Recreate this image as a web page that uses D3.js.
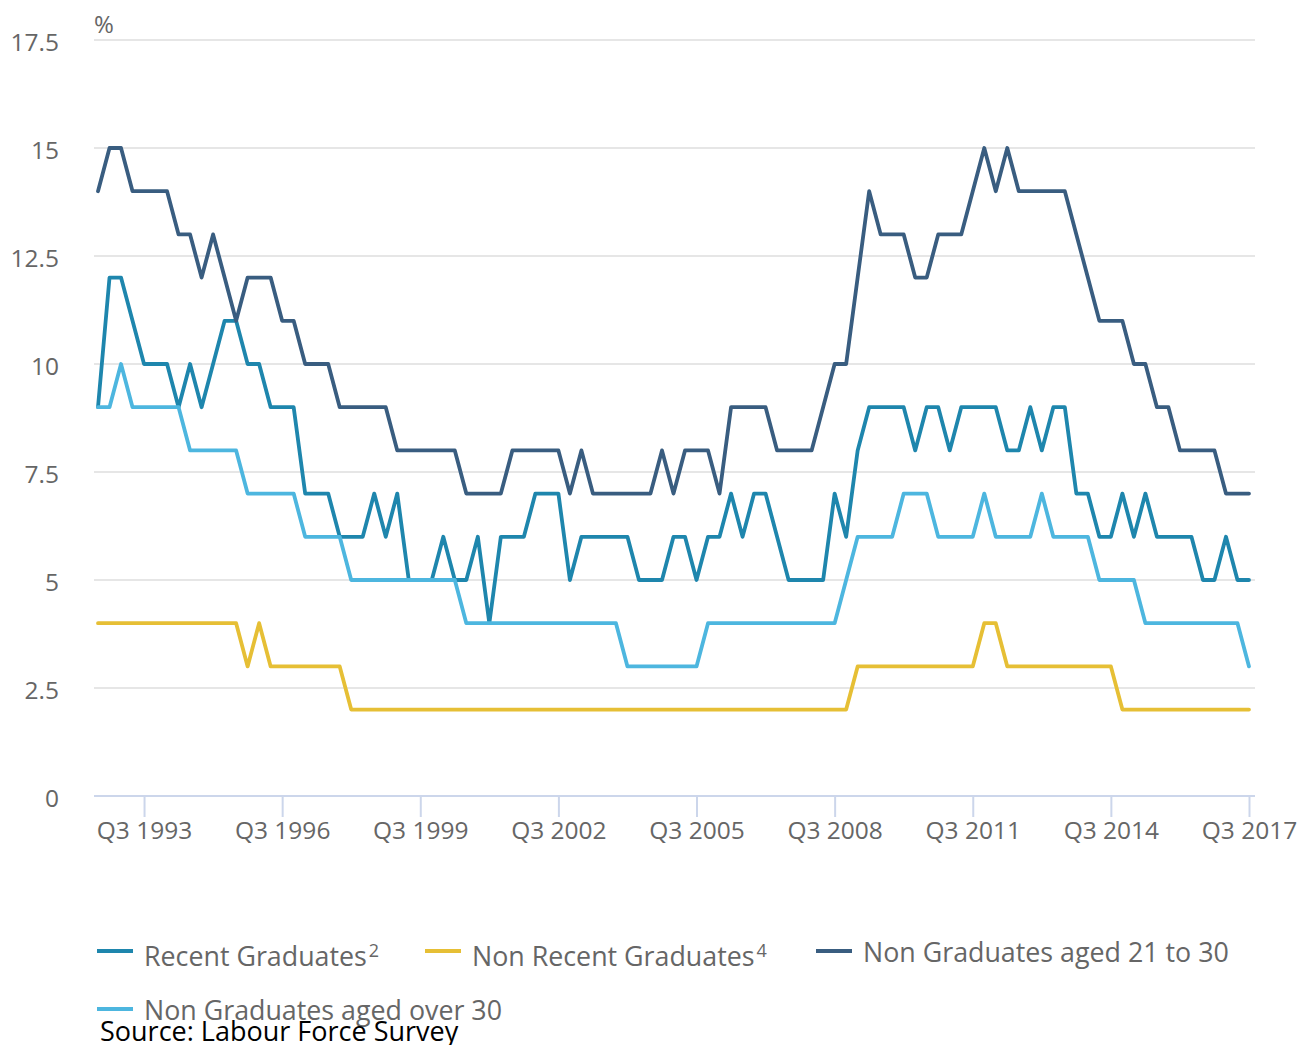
<!DOCTYPE html>
<html>
<head>
<meta charset="utf-8">
<script src="https://cdn.jsdelivr.net/npm/d3@7"></script>
<style>
  body { margin: 0; background: #fff; }
  svg { display: block; font-family: "Open Sans", "Noto Sans", sans-serif; }
</style>
</head>
<body>
<div id="chart"></div>
<script>
// quarterly series, Q3 1992 .. Q3 2017 (percent)
var recentGrads = [9,12,12,11,10,10,10,9,10,9,10,11,11,10,10,9,9,9,7,7,
  7,6,6,6,7,6,7,5,5,5,6,5,5,6,4,6,6,6,7,7,
  7,5,6,6,6,6,6,5,5,5,6,6,5,6,6,7,6,7,7,6,
  5,5,5,5,7,6,8,9,9,9,9,8,9,9,8,9,9,9,9,8,
  8,9,8,9,9,7,7,6,6,7,6,7,6,6,6,6,5,5,6,5,5];
var nonRecentGrads = [4,4,4,4,4,4,4,4,4,4,4,4,4,3,4,3,3,3,3,3,
  3,3,2,2,2,2,2,2,2,2,2,2,2,2,2,2,2,2,2,2,
  2,2,2,2,2,2,2,2,2,2,2,2,2,2,2,2,2,2,2,2,
  2,2,2,2,2,2,3,3,3,3,3,3,3,3,3,3,3,4,4,3,
  3,3,3,3,3,3,3,3,3,2,2,2,2,2,2,2,2,2,2,2,2];
var nonGrads21to30 = [14,15,15,14,14,14,14,13,13,12,13,12,11,12,12,12,11,11,10,10,
  10,9,9,9,9,9,8,8,8,8,8,8,7,7,7,7,8,8,8,8,
  8,7,8,7,7,7,7,7,7,8,7,8,8,8,7,9,9,9,9,8,
  8,8,8,9,10,10,12,14,13,13,13,12,12,13,13,13,14,15,14,15,
  14,14,14,14,14,13,12,11,11,11,10,10,9,9,8,8,8,8,7,7,7];
var nonGradsOver30 = [9,9,10,9,9,9,9,9,8,8,8,8,8,7,7,7,7,7,6,6,
  6,6,5,5,5,5,5,5,5,5,5,5,4,4,4,4,4,4,4,4,
  4,4,4,4,4,4,3,3,3,3,3,3,3,4,4,4,4,4,4,4,
  4,4,4,4,4,5,6,6,6,6,7,7,7,6,6,6,6,7,6,6,
  6,6,7,6,6,6,6,5,5,5,5,4,4,4,4,4,4,4,4,4,3];

var tickLabels = ["Q3 1993","Q3 1996","Q3 1999","Q3 2002","Q3 2005","Q3 2008","Q3 2011","Q3 2014","Q3 2017"];
var yTicks = [0, 2.5, 5, 7.5, 10, 12.5, 15, 17.5];

var seriesNames = ["Recent Graduates", "Non Recent Graduates", "Non Graduates aged 21 to 30", "Non Graduates aged over 30"];
var seriesSup = ["2", "4", "", ""];
var seriesColors = ["#1e86ad", "#e6bf35", "#395d80", "#4db6df"];

// category labels Q3 1992 .. Q3 2017
var quarters = [];
for (var yr = 1992, q = 3; quarters.length < recentGrads.length; ) {
    quarters.push("Q" + q + " " + yr);
    q++;
    if (q > 4) { q = 1; yr++; }
}

var width = 1298, height = 1045;
var svg = d3.select("#chart").append("svg")
    .attr("width", width)
    .attr("height", height);

var x = d3.scalePoint().domain(quarters).range([98, 1249]);
var y = d3.scaleLinear().domain([0, 17.5]).range([796, 40]);

// grid
svg.append("g").selectAll("line")
    .data(yTicks.slice(1))
    .join("line")
    .attr("x1", 94).attr("x2", 1255)
    .attr("y1", d => y(d)).attr("y2", d => y(d))
    .attr("stroke", "#e6e6e6")
    .attr("stroke-width", 2);

// y labels
svg.append("g").selectAll("text")
    .data(yTicks)
    .join("text")
    .attr("x", 59)
    .attr("y", d => y(d) + 11)
    .attr("text-anchor", "end")
    .attr("fill", "#666")
    .style("font-size", "24.5px")
    .text(d => d);

svg.append("text")
    .attr("x", 94).attr("y", 33)
    .attr("fill", "#666")
    .style("font-size", "24px")
    .text("%");

// x axis
var xAxis = svg.append("g")
    .attr("transform", "translate(0," + y(0) + ")")
    .call(d3.axisBottom(x).tickValues(tickLabels).tickSize(21).tickSizeOuter(0).tickPadding(5));
xAxis.select(".domain").remove();
xAxis.selectAll(".tick line").attr("stroke", "#ccd6eb").attr("stroke-width", 2);
xAxis.selectAll(".tick text")
    .attr("fill", "#666")
    .style("font-size", "24.5px")
    .style("font-family", "'Open Sans', sans-serif");
svg.append("line")
    .attr("x1", 94).attr("x2", 1255)
    .attr("y1", y(0)).attr("y2", y(0))
    .attr("stroke", "#ccd6eb")
    .attr("stroke-width", 2);

// lines
var allSeries = [recentGrads, nonRecentGrads, nonGrads21to30, nonGradsOver30];
var line = d3.line()
    .x((d, i) => x(quarters[i]))
    .y(d => y(d));

svg.append("g").selectAll("path")
    .data(allSeries)
    .join("path")
    .attr("d", d => line(d))
    .attr("fill", "none")
    .attr("stroke", (d, i) => seriesColors[i])
    .attr("stroke-width", 3.8)
    .attr("stroke-linejoin", "round")
    .attr("stroke-linecap", "round");

// legend
var legendPos = [
    {x: 97, y: 951, ty: 966},
    {x: 425, y: 951, ty: 966},
    {x: 816, y: 951, ty: 962},
    {x: 97, y: 1009, ty: 1020}
];
var legend = svg.append("g").selectAll("g")
    .data(seriesNames)
    .join("g");
legend.append("line")
    .attr("x1", (d, i) => legendPos[i].x)
    .attr("x2", (d, i) => legendPos[i].x + 36)
    .attr("y1", (d, i) => legendPos[i].y)
    .attr("y2", (d, i) => legendPos[i].y)
    .attr("stroke", (d, i) => seriesColors[i])
    .attr("stroke-width", 4);
var legendText = legend.append("text")
    .attr("x", (d, i) => legendPos[i].x + 47)
    .attr("y", (d, i) => legendPos[i].ty)
    .attr("fill", "#666")
    .style("font-size", "26.8px")
    .text(d => d);
legendText.filter((d, i) => seriesSup[i] != "")
    .append("tspan")
    .attr("dx", 2)
    .attr("dy", -9)
    .style("font-size", "18px")
    .text((d, i) => seriesSup[seriesNames.indexOf(d)]);

// source
svg.append("text")
    .attr("x", 100).attr("y", 1041)
    .attr("fill", "#000")
    .style("font-size", "27px")
    .text("Source: Labour Force Survey");
</script>
</body>
</html>
